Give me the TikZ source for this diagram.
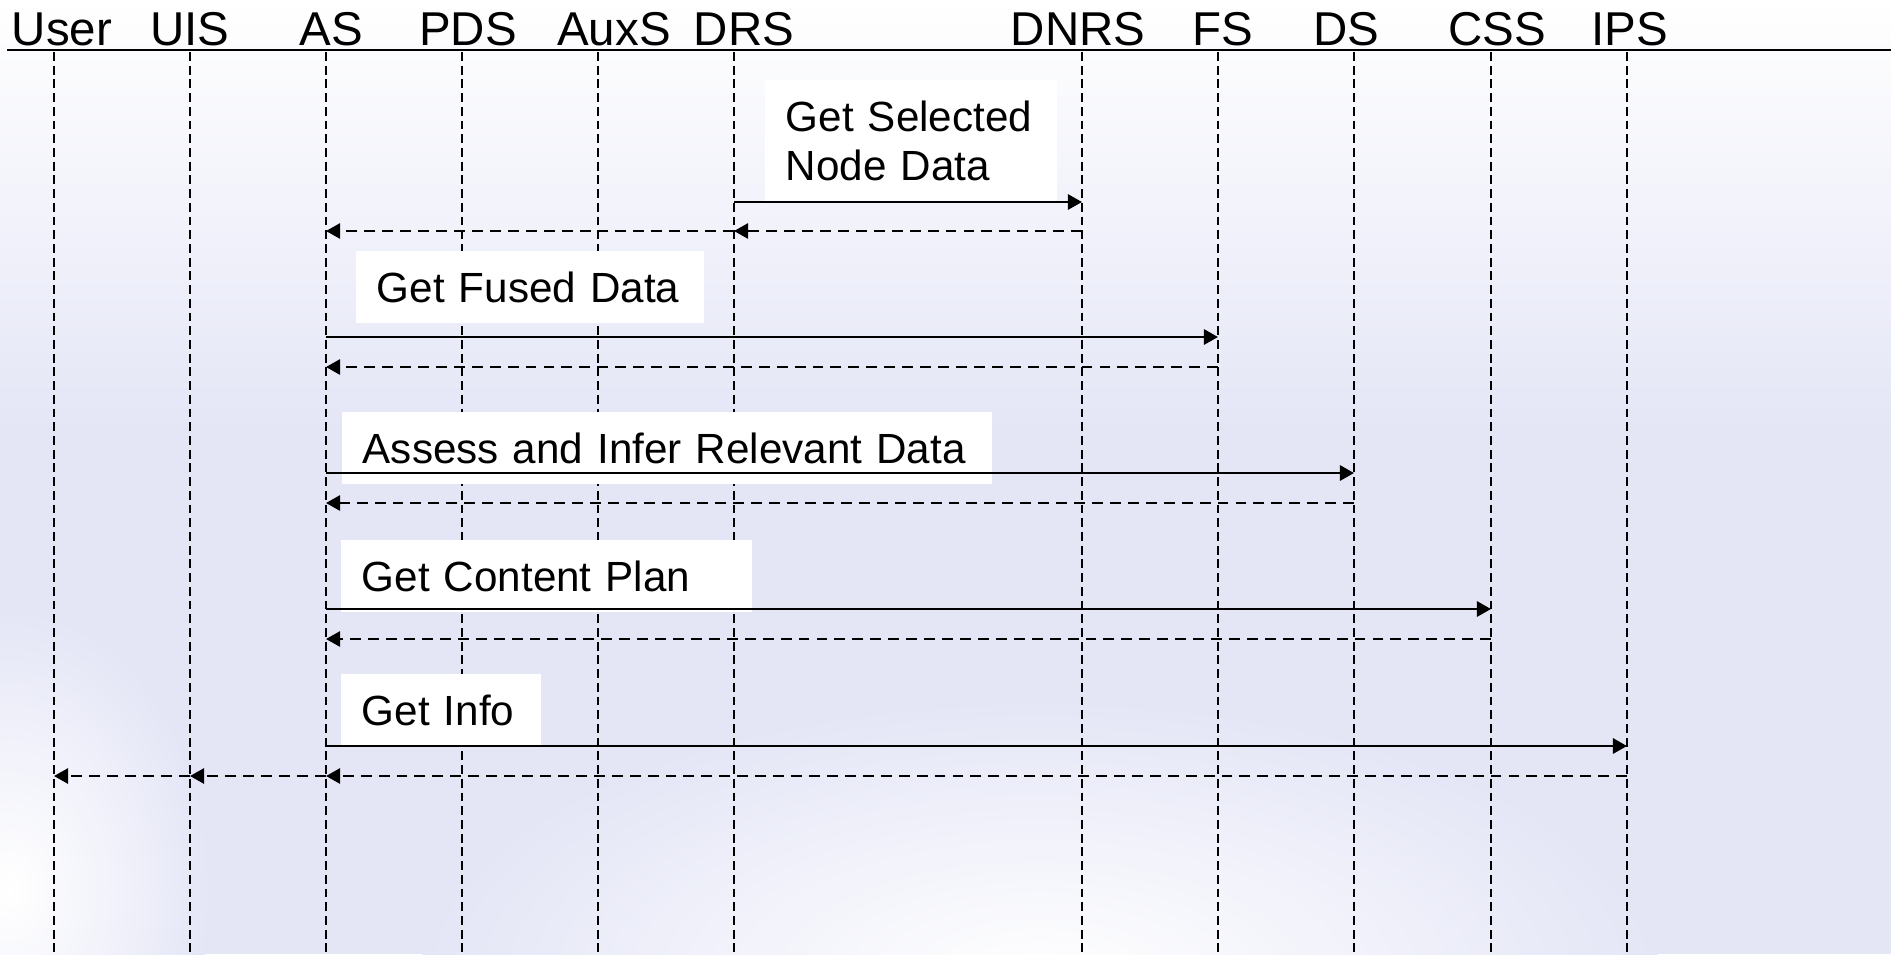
\documentclass[tikz,border=0pt]{standalone}
\usepackage{fontspec}
\setmainfont{Liberation Sans}
\usetikzlibrary{arrows.meta}
\definecolor{bglav}{RGB}{228,230,246}

\begin{document}
\begin{tikzpicture}[x=0.01cm, y=-0.01cm,
        head/.style={anchor=base, inner sep=0pt, font=\fontsize{13.5}{16}\selectfont},
        msg/.style={anchor=base west, fill=white, align=left, inner xsep=6pt, inner ysep=6pt,
            text height=8.6pt, text depth=0pt, font=\fontsize{12}{14}\selectfont},
        life/.style={line width=0.6pt, dash pattern=on 2.5pt off 1.4pt},
        call/.style={line width=0.75pt, -{Triangle[length=4pt, width=4.3pt]}},
        reply/.style={call, line width=0.72pt, dash pattern=on 3.1pt off 2pt}]
    \useasboundingbox (0,0) rectangle (1891,954);
    % Background:
    \fill[bglav] (0,0) rectangle (1891,954);
    \shade[top color=white, bottom color=bglav] (0,0) rectangle (1891,430);
    \shade[inner color=white, outer color=bglav] (1040,980) ellipse (620 and 280);
    \shade[inner color=white, outer color=bglav] (10,890) ellipse (200 and 280);
    % Header and lifelines:
    \coordinate (rule0) at (7,50);
    \coordinate (rule1) at (1891,50);
    \coordinate (bot) at (0,954);
    \draw[line width=0.7pt] (rule0) -- (rule1);
    \node[head] (hUser) at (62,45) {User};
    \node[head] (hUIS) at (190,45) {UIS};
    \node[head] (hAS) at (331,45) {AS};
    \node[head] (hPDS) at (468,45) {PDS};
    \node[head] (hAuxS) at (614,45) {AuxS};
    \node[head] (hDRS) at (744,45) {DRS};
    \node[head] (hDNRS) at (1078,45) {DNRS};
    \node[head] (hFS) at (1223,45) {FS};
    \node[head] (hDS) at (1346,45) {DS};
    \node[head] (hCSS) at (1497,45) {CSS};
    \node[head] (hIPS) at (1630,45) {IPS};
    \coordinate (user) at (54,52);
    \coordinate (uis) at (190,52);
    \coordinate (as) at (326,52);
    \coordinate (pds) at (462,52);
    \coordinate (auxs) at (598,52);
    \coordinate (drs) at (734,52);
    \coordinate (dnrs) at (1082,52);
    \coordinate (fs) at (1218,52);
    \coordinate (ds) at (1354,52);
    \coordinate (css) at (1491,52);
    \coordinate (ips) at (1627,52);
    \draw[life] (user) -- (user |- bot);
    \draw[life] (uis) -- (uis |- bot);
    \draw[life] (as) -- (as |- bot);
    \draw[life] (pds) -- (pds |- bot);
    \draw[life] (auxs) -- (auxs |- bot);
    \draw[life] (drs) -- (drs |- bot);
    \draw[life] (dnrs) -- (dnrs |- bot);
    \draw[life] (fs) -- (fs |- bot);
    \draw[life] (ds) -- (ds |- bot);
    \draw[life] (css) -- (css |- bot);
    \draw[life] (ips) -- (ips |- bot);
    % Messages:
    \node[msg, text width=71pt, text depth=14pt] (lbSel) at (764,131) {Get Selected\\Node Data};
    \node[msg, text width=87pt] (lbFus) at (355,302) {Get Fused Data};
    \node[msg, text width=173pt] (lbInf) at (341,463) {Assess and Infer Relevant Data};
    \node[msg, text width=105pt] (lbCon) at (340,591) {Get Content Plan};
    \node[msg, text width=45pt] (lbInfo) at (340,725) {Get Info};
    \coordinate (r1) at (0,202);
    \coordinate (r1b) at (0,231);
    \coordinate (r2) at (0,337);
    \coordinate (r2b) at (0,367);
    \coordinate (r3) at (0,473);
    \coordinate (r3b) at (0,503);
    \coordinate (r4) at (0,609);
    \coordinate (r4b) at (0,639);
    \coordinate (r5) at (0,746);
    \coordinate (r5b) at (0,776);
    \draw[call] (drs |- r1) -- (dnrs |- r1);
    \draw[reply] (dnrs |- r1b) -- (drs |- r1b);
    \draw[reply] (drs |- r1b) -- (as |- r1b);
    \draw[call] (as |- r2) -- (fs |- r2);
    \draw[reply] (fs |- r2b) -- (as |- r2b);
    \draw[call] (as |- r3) -- (ds |- r3);
    \draw[reply] (ds |- r3b) -- (as |- r3b);
    \draw[call] (as |- r4) -- (css |- r4);
    \draw[reply] (css |- r4b) -- (as |- r4b);
    \draw[call] (as |- r5) -- (ips |- r5);
    \draw[reply] (ips |- r5b) -- (as |- r5b);
    \draw[reply] (as |- r5b) -- (uis |- r5b);
    \draw[reply] (uis |- r5b) -- (user |- r5b);
\end{tikzpicture}
\end{document}
